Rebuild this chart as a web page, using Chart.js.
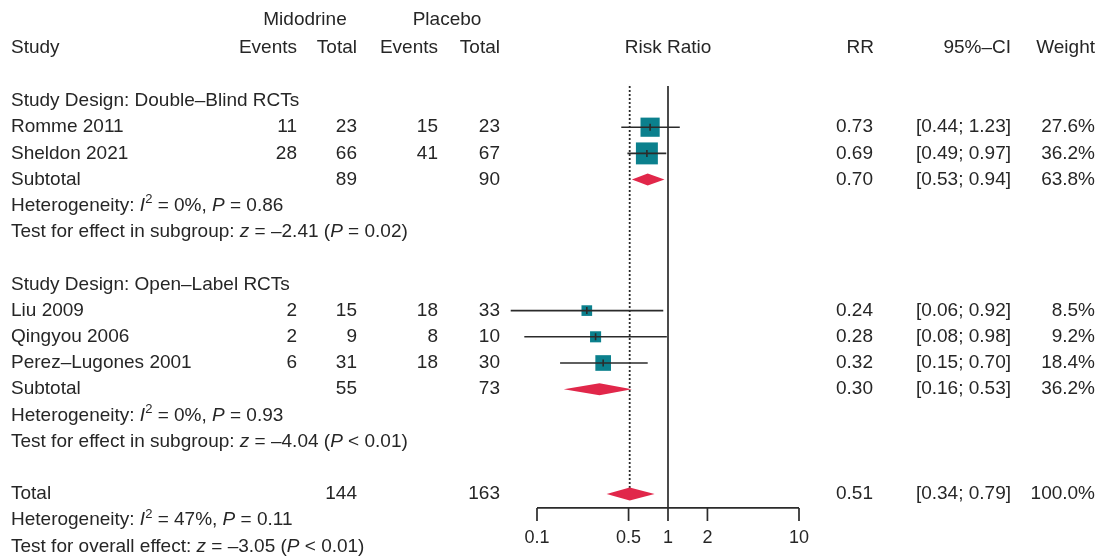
<!DOCTYPE html>
<html>
<head>
<meta charset="utf-8">
<script src="https://cdn.jsdelivr.net/npm/chart.js@4"></script>
<style>
  body { margin: 0; background: #fff; }
  #wrap { width: 1099px; height: 556px; }
</style>
</head>
<body>
<div id="wrap"><canvas id="forest" width="1099" height="556"></canvas></div>
<script>
// study level data
const studies = ['Romme 2011', 'Sheldon 2021', 'Liu 2009', 'Qingyou 2006', 'Perez–Lugones 2001'];
const studyRows = [1, 2, 8, 9, 10];
const eventsMid = [11, 28, 2, 2, 6];
const totalMid = [23, 66, 15, 9, 31];
const eventsPla = [15, 41, 18, 8, 18];
const totalPla = [23, 67, 33, 10, 30];
const rr = [0.73, 0.69, 0.24, 0.28, 0.32];
const lower = [0.44, 0.49, 0.063, 0.08, 0.15];
const upper = [1.23, 0.97, 0.92, 0.98, 0.70];
const weight = [27.6, 36.2, 8.5, 9.2, 18.4];

// subgroups + overall (last one is the total)
const groupNames = ['Study Design: Double–Blind RCTs', 'Study Design: Open–Label RCTs'];
const groupRows = [0, 7];
const poolLabels = ['Subtotal', 'Subtotal', 'Total'];
const poolRows = [3, 11, 15];
const poolTotalMid = [89, 55, 144];
const poolTotalPla = [90, 73, 163];
const poolRR = [0.70, 0.30, 0.51];
const poolLower = [0.53, 0.16, 0.34];
const poolUpper = [0.94, 0.53, 0.79];
const poolWeight = ['63.8%', '36.2%', '100.0%'];
const hetI2 = ['0%', '0%', '47%'];
const hetP = ['0.86', '0.93', '0.11'];
const testLabel = ['Test for effect in subgroup: ', 'Test for effect in subgroup: ', 'Test for overall effect: '];
const testZ = ['–2.41', '–4.04', '–3.05'];
const testP = ['= 0.02', '< 0.01', '< 0.01'];

const xTicks = [0.1, 0.5, 1, 2, 10];

const FONT = '"Liberation Sans", Arial, sans-serif';
const FS = 19;
const TXT = '#262626';
const LINE = '#2b2b2b';
const TEAL = '#0b808d';
const RED = '#e1274a';

function fmt(v) { return v.toFixed(2); }

function drawRich(ctx, parts, x, y) {
  let cx = x;
  parts.forEach(p => {
    const [t, s] = p;
    let dy = 0;
    if (s === 'i') ctx.font = 'italic ' + FS + 'px ' + FONT;
    else if (s === 'sup') { ctx.font = '13px ' + FONT; dy = -6; }
    else ctx.font = FS + 'px ' + FONT;
    ctx.fillText(t, cx, y + dy);
    cx += ctx.measureText(t).width;
  });
}

const forestPlugin = {
  id: 'forest',
  afterDatasetsDraw(chart) {
    const ctx = chart.ctx;
    const xs = chart.scales.x, ys = chart.scales.y;
    const px = v => xs.getPixelForValue(v);
    const py = r => ys.getPixelForValue(r);
    const axisY = py(15.53);

    ctx.save();
    // reference line at 1
    ctx.strokeStyle = LINE;
    ctx.lineWidth = 1.7;
    ctx.beginPath();
    ctx.moveTo(px(1), py(-0.57));
    ctx.lineTo(px(1), axisY);
    ctx.stroke();

    // dotted line at pooled estimate
    ctx.setLineDash([2, 2]);
    ctx.lineWidth = 1.8;
    ctx.beginPath();
    ctx.moveTo(px(poolRR[2]), py(-0.57));
    ctx.lineTo(px(poolRR[2]), py(poolRows[2]) - 6);
    ctx.stroke();
    ctx.setLineDash([]);

    // confidence intervals
    ctx.lineWidth = 1.6;
    studies.forEach((s, i) => {
      const y = py(studyRows[i]);
      ctx.beginPath();
      ctx.moveTo(px(lower[i]), y);
      ctx.lineTo(px(upper[i]), y);
      ctx.moveTo(px(rr[i]), y - 3.5);
      ctx.lineTo(px(rr[i]), y + 3.5);
      ctx.stroke();
    });

    // diamonds
    ctx.fillStyle = RED;
    poolRR.forEach((v, i) => {
      const y = py(poolRows[i]);
      const h = i === 2 ? 6.5 : 6;
      ctx.beginPath();
      ctx.moveTo(px(poolLower[i]), y);
      ctx.lineTo(px(v), y - h);
      ctx.lineTo(px(poolUpper[i]), y);
      ctx.lineTo(px(v), y + h);
      ctx.closePath();
      ctx.fill();
    });

    // x axis
    ctx.strokeStyle = LINE;
    ctx.lineWidth = 1.7;
    ctx.beginPath();
    ctx.moveTo(px(xTicks[0]), axisY);
    ctx.lineTo(px(xTicks[xTicks.length - 1]), axisY);
    xTicks.forEach(t => {
      ctx.moveTo(px(t), axisY);
      ctx.lineTo(px(t), axisY + 13);
    });
    ctx.stroke();
    ctx.fillStyle = TXT;
    ctx.font = '18px ' + FONT;
    ctx.textAlign = 'center';
    ctx.textBaseline = 'middle';
    xTicks.forEach(t => ctx.fillText(String(t), px(t), axisY + 30));

    // headers
    ctx.font = FS + 'px ' + FONT;
    const hy1 = py(-3.1), hy2 = py(-2.05);
    ctx.fillText('Midodrine', 305, hy1);
    ctx.fillText('Placebo', 447, hy1);
    ctx.fillText('Risk Ratio', px(1), hy2);
    ctx.textAlign = 'left';
    ctx.fillText('Study', 11, hy2);
    ctx.textAlign = 'right';
    ctx.fillText('Events', 297, hy2);
    ctx.fillText('Total', 357, hy2);
    ctx.fillText('Events', 438, hy2);
    ctx.fillText('Total', 500, hy2);
    ctx.fillText('RR', 874, hy2);
    ctx.fillText('95%–CI', 1011, hy2);
    ctx.fillText('Weight', 1095, hy2);

    // group titles
    ctx.textAlign = 'left';
    groupNames.forEach((g, i) => ctx.fillText(g, 11, py(groupRows[i])));

    // study rows
    studies.forEach((s, i) => {
      const y = py(studyRows[i]);
      ctx.textAlign = 'left';
      ctx.fillText(s, 11, y);
      ctx.textAlign = 'right';
      ctx.fillText(String(eventsMid[i]), 297, y);
      ctx.fillText(String(totalMid[i]), 357, y);
      ctx.fillText(String(eventsPla[i]), 438, y);
      ctx.fillText(String(totalPla[i]), 500, y);
      ctx.fillText(fmt(rr[i]), 873, y);
      ctx.fillText('[' + fmt(lower[i]) + '; ' + fmt(upper[i]) + ']', 1011, y);
      ctx.fillText(weight[i].toFixed(1) + '%', 1095, y);
    });

    // pooled rows + heterogeneity text
    poolRR.forEach((v, i) => {
      const r = poolRows[i];
      const y = py(r);
      ctx.font = FS + 'px ' + FONT;
      ctx.textAlign = 'left';
      ctx.fillText(poolLabels[i], 11, y);
      ctx.textAlign = 'right';
      ctx.fillText(String(poolTotalMid[i]), 357, y);
      ctx.fillText(String(poolTotalPla[i]), 500, y);
      ctx.fillText(fmt(v), 873, y);
      ctx.fillText('[' + fmt(poolLower[i]) + '; ' + fmt(poolUpper[i]) + ']', 1011, y);
      ctx.fillText(poolWeight[i], 1095, y);
      ctx.textAlign = 'left';
      drawRich(ctx, [['Heterogeneity: ', 'n'], ['I', 'i'], ['2', 'sup'], [' = ' + hetI2[i] + ', ', 'n'], ['P', 'i'], [' = ' + hetP[i], 'n']], 11, py(r + 1));
      drawRich(ctx, [[testLabel[i], 'n'], ['z', 'i'], [' = ' + testZ[i] + ' (', 'n'], ['P', 'i'], [' ' + testP[i] + ')', 'n']], 11, py(r + 2));
    });
    ctx.restore();
  }
};

new Chart(document.getElementById('forest'), {
  type: 'scatter',
  data: {
    datasets: [{
      data: rr.map((v, i) => ({ x: v, y: studyRows[i] })),
      pointStyle: 'rect',
      pointRadius: weight.map(w => 3.65 * Math.sqrt(w) / Math.SQRT2),
      pointHoverRadius: weight.map(w => 3.65 * Math.sqrt(w) / Math.SQRT2),
      backgroundColor: TEAL,
      borderWidth: 0,
      clip: false
    }]
  },
  options: {
    responsive: false,
    animation: false,
    layout: { autoPadding: false, padding: { left: 537, right: 300, top: 0, bottom: 0 } },
    scales: {
      x: { type: 'logarithmic', min: 0.1, max: 10, display: false },
      y: { type: 'linear', min: -101 / 26.2, max: 455 / 26.2, reverse: true, display: false }
    },
    plugins: {
      legend: { display: false },
      tooltip: { enabled: false }
    }
  },
  plugins: [forestPlugin]
});
</script>
</body>
</html>
